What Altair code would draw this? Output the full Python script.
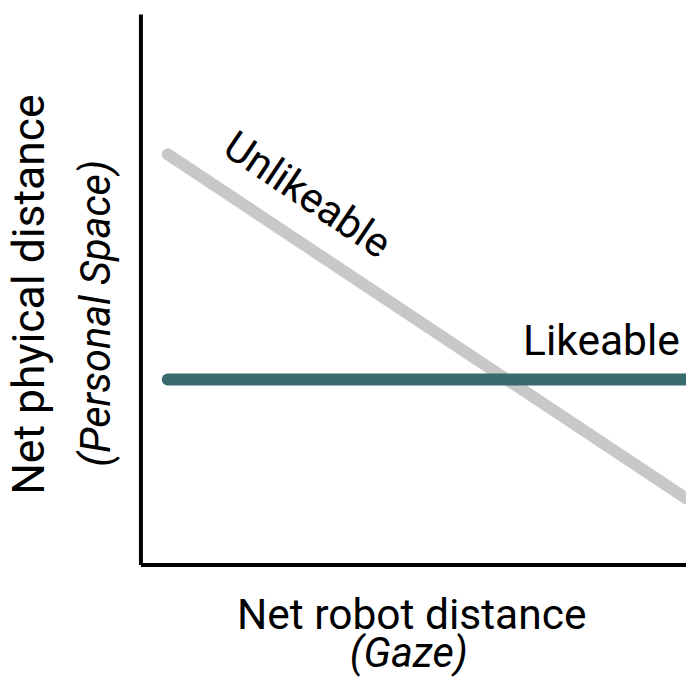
import altair as alt
import pandas as pd

series = ["Unlikeable", "Unlikeable", "Likeable", "Likeable"]
xs = [0.5, 10.0, 0.5, 10.0]
ys = [7.45, 1.2, 3.36, 3.36]

label_text = ["Unlikeable", "Likeable"]
label_x = [3.05, 8.45]
label_y = [6.7, 3.81]

FONT = "Roboto"

lines_df = pd.DataFrame({"series": series, "x": xs, "y": ys})
labels_df = pd.DataFrame({"text": label_text, "x": label_x, "y": label_y})

xscale = alt.Scale(domain=[0, 10], nice=False, zero=False)
yscale = alt.Scale(domain=[0, 10], nice=False, zero=False)
ax = alt.Axis(title=None, labels=False, ticks=False, grid=False, domain=True,
              domainColor="black", domainWidth=4)

lines = alt.Chart(lines_df).mark_line(strokeWidth=12, strokeCap="round").encode(
    x=alt.X("x:Q", scale=xscale, axis=ax),
    y=alt.Y("y:Q", scale=yscale, axis=ax),
    color=alt.Color("series:N", scale=alt.Scale(domain=["Unlikeable", "Likeable"],
                                               range=["#c8c8c8", "#386a6e"]), legend=None),
    detail="series:N",
)

unl = alt.Chart(labels_df.iloc[[0]]).mark_text(
    font=FONT, fontSize=42, angle=34, baseline="middle", align="center", color="black"
).encode(x=alt.X("x:Q", scale=xscale), y=alt.Y("y:Q", scale=yscale), text="text:N")

lik = alt.Chart(labels_df.iloc[[1]]).mark_text(
    font=FONT, fontSize=43, baseline="alphabetic", align="center", color="black"
).encode(x=alt.X("x:Q", scale=xscale), y=alt.Y("y:Q", scale=yscale), text="text:N")

def title_text(txt, x, y, size, angle=0, italic=False):
    kw = dict(font=FONT, fontSize=size, baseline="alphabetic", align="center",
              color="black", text=txt)
    if angle:
        kw["angle"] = angle
    if italic:
        kw["fontStyle"] = "italic"
    return alt.Chart(pd.DataFrame({"a": [0]})).mark_text(**kw).encode(
        x=alt.value(x), y=alt.value(y))

t1 = title_text("Net robot distance", 274.5, 622, 43)
t2 = title_text("(Gaze)", 271.5, 661, 42, italic=True)
t3 = title_text("Net phyical distance", -97.5, 284, 45, angle=270)
t4 = title_text("(Personal Space)", -30.5, 303, 42, angle=270, italic=True)

chart = alt.layer(lines, unl, lik, t1, t2, t3, t4).properties(
    width=552, height=557,
    autosize=alt.AutoSizeParams(type="none"),
    padding={"left": 134, "top": 2, "right": 0, "bottom": 116},
).configure_view(stroke=None)

chart.save("out.html", embed_options={"renderer": "svg", "actions": False})
